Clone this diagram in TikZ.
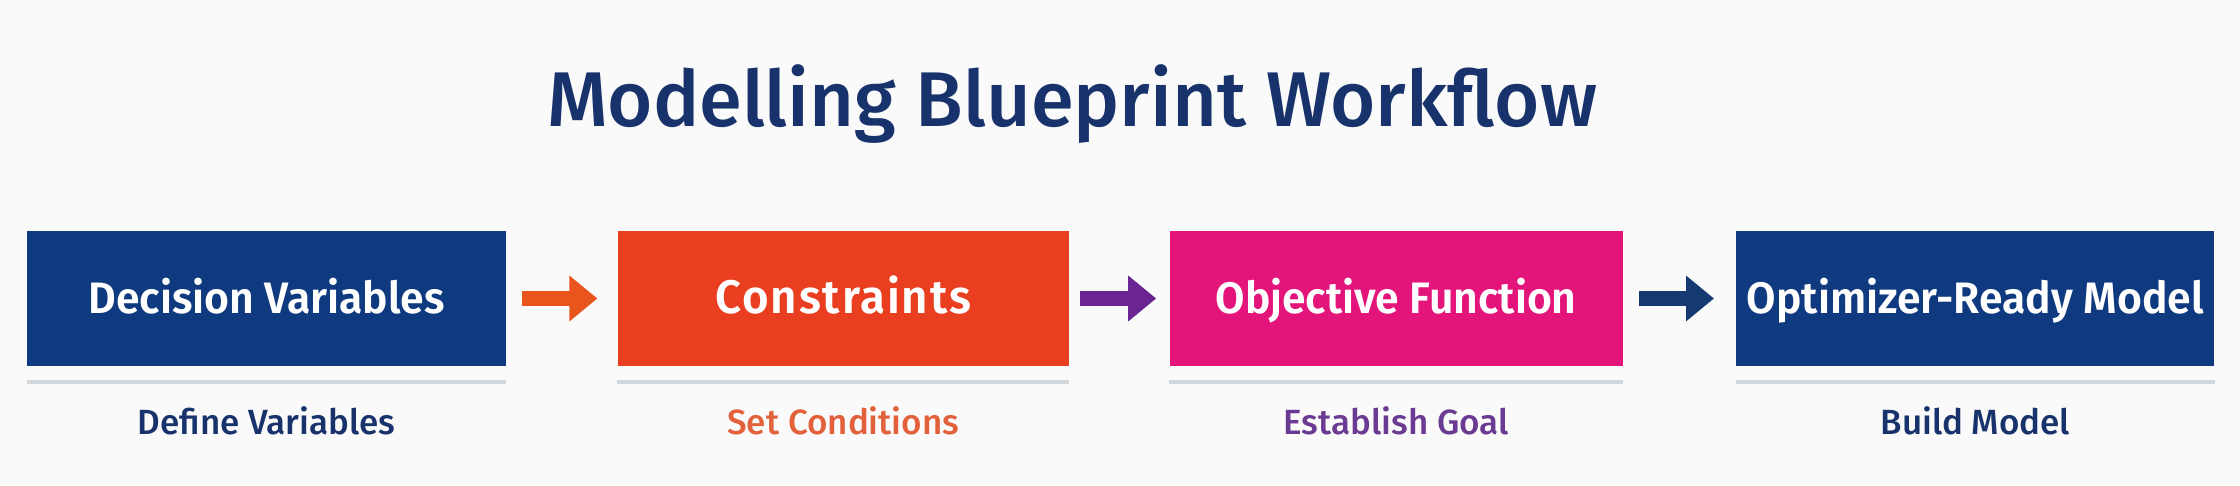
\documentclass[tikz,border=0pt]{standalone}
\usepackage{fontspec}
\setmainfont{Fira Sans}
\newfontfamily\titlefont{Fira Sans}[UprightFont={* Medium}]
\newfontfamily\labelfont{Fira Sans}[UprightFont={* SemiBold},FakeStretch=0.97]
\newfontfamily\subfont{Fira Sans}[UprightFont={* Medium}]
\usetikzlibrary{positioning,arrows.meta}

\definecolor{bgcol}{HTML}{FAFAFA}
\definecolor{navy}{HTML}{103A80}
\definecolor{navytext}{HTML}{18336C}
\definecolor{redorange}{HTML}{E93F20}
\definecolor{magenta}{HTML}{E3157A}
\definecolor{orangearrow}{HTML}{E8561E}
\definecolor{purplearrow}{HTML}{6A2592}
\definecolor{navyarrow}{HTML}{153A72}
\definecolor{orangetext}{HTML}{E2603A}
\definecolor{purpletext}{HTML}{6B3A92}
\definecolor{rulecol}{HTML}{D2D8DB}

\begin{document}
\begin{tikzpicture}[stage/.style={rectangle,fill=#1,inner sep=0pt,minimum height=67.5pt,text=white,
            font=\labelfont\fontsize{22}{26}\selectfont,text height=15pt,text depth=0pt},
        sublabel/.style={font=\subfont\fontsize{17.5}{21}\selectfont,text=#1},
        flow/.style={draw=#1,line width=7.5pt,-{Triangle[width=22pt,length=14pt]}},
        rule/.style={draw=rulecol,line width=2pt}]
        \fill[bgcol] (0,0) rectangle (1120pt,243pt);
        \useasboundingbox (0,0) rectangle (1120pt,243pt);

        \node[font=\titlefont\fontsize{38.8}{46}\selectfont,text=navytext,anchor=base] (title) at (536pt,179.5pt) {Modelling Blueprint Workflow};

        \node[stage=navy,minimum width=239.5pt] (dv) at (133.25pt,93.75pt) {Decision Variables};
        \node[stage=redorange,minimum width=225.5pt,font=\labelfont\fontsize{23.5}{27}\selectfont\addfontfeature{LetterSpace=4}] (con) [right=55.5pt of dv] {Constraints};
        \node[stage=magenta,minimum width=226.5pt] (obj) [right=50pt of con] {Objective Function};
        \node[stage=navy,minimum width=239pt] (opt) [right=56.5pt of obj] {Optimizer-Ready Model};

        \draw[flow=orangearrow,shorten <=8pt,shorten >=10pt] (dv) -- (con);
        \draw[flow=purplearrow,shorten <=5.5pt,shorten >=6.5pt] (con) -- (obj);
        \draw[flow=navyarrow,shorten <=8pt,shorten >=11pt] (obj) -- (opt);

        \draw[rule] ([yshift=-8pt]dv.south west) -- ([yshift=-8pt]dv.south east);
        \draw[rule] ([yshift=-8pt]con.south west) -- ([yshift=-8pt]con.south east);
        \draw[rule] ([yshift=-8pt]obj.south west) -- ([yshift=-8pt]obj.south east);
        \draw[rule] ([yshift=-8pt]opt.south west) -- ([yshift=-8pt]opt.south east);

        \node[sublabel=navytext] (dvsub) at ([yshift=-27pt]dv.south) {Define Variables};
        \node[sublabel=orangetext] (consub) at ([yshift=-27pt]con.south) {Set Conditions};
        \node[sublabel=purpletext] (objsub) at ([yshift=-27pt]obj.south) {Establish Goal};
        \node[sublabel=navytext] (optsub) at ([yshift=-27pt]opt.south) {Build Model};
    \end{tikzpicture}
\end{document}
